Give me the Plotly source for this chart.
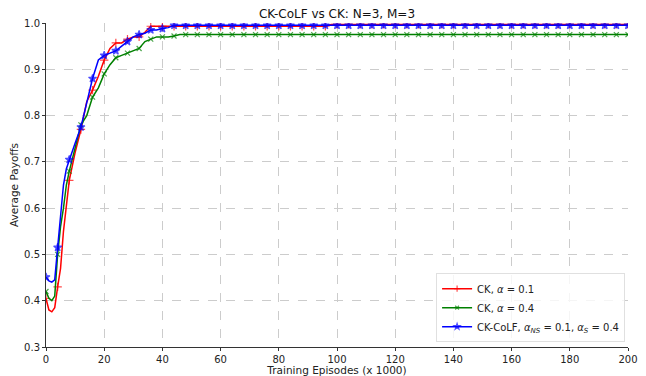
import plotly.graph_objects as go

# Episodes (x 1000)
episodes = [0, 1, 2, 3, 4, 5, 6, 7, 8, 10, 12, 14, 16, 18, 20, 22, 24, 26, 28, 30, 32, 34, 36, 38, 40,
            42, 44, 46, 48, 52, 56, 60, 64, 68, 72, 76, 80, 84, 88, 92, 96, 98, 100, 104, 108, 112,
            116, 120, 124, 128, 132, 136, 140, 144, 148, 152, 156, 160, 164, 168, 172, 176, 180,
            184, 188, 192, 196, 200]

ck_01 = [0.405, 0.380, 0.376, 0.385, 0.430, 0.470, 0.550, 0.610, 0.660, 0.720, 0.770, 0.830, 0.855,
         0.885, 0.920, 0.945, 0.957, 0.957, 0.965, 0.970, 0.970, 0.980, 0.993, 0.993, 0.993,
         0.993, 0.993, 0.993, 0.993, 0.993, 0.993, 0.993, 0.993, 0.993, 0.993, 0.993, 0.993,
         0.993, 0.993, 0.993, 0.993, 0.997, 0.997, 0.997, 0.997, 0.997, 0.997, 0.997, 0.997,
         0.997, 0.997, 0.997, 0.997, 0.997, 0.997, 0.997, 0.997, 0.997, 0.997, 0.997, 0.997,
         0.997, 0.997, 0.997, 0.997, 0.997, 0.997, 0.997]

ck_04 = [0.420, 0.405, 0.400, 0.410, 0.500, 0.560, 0.600, 0.650, 0.680, 0.730, 0.780, 0.800, 0.840,
         0.860, 0.890, 0.910, 0.925, 0.930, 0.935, 0.940, 0.945, 0.960, 0.965, 0.970, 0.970,
         0.970, 0.972, 0.975, 0.975, 0.975, 0.975, 0.975, 0.975, 0.975, 0.975, 0.975, 0.975,
         0.975, 0.975, 0.975, 0.975, 0.975, 0.975, 0.975, 0.975, 0.975, 0.975, 0.975, 0.975,
         0.975, 0.975, 0.975, 0.975, 0.975, 0.975, 0.975, 0.975, 0.975, 0.975, 0.975, 0.975,
         0.975, 0.975, 0.975, 0.975, 0.975, 0.975, 0.975]

ck_colf = [0.451, 0.443, 0.440, 0.445, 0.515, 0.590, 0.650, 0.685, 0.705, 0.740, 0.775, 0.830, 0.880,
           0.920, 0.930, 0.935, 0.940, 0.950, 0.960, 0.970, 0.975, 0.978, 0.985, 0.985, 0.988,
           0.990, 0.995, 0.995, 0.995, 0.995, 0.995, 0.995, 0.995, 0.995, 0.995, 0.995, 0.995,
           0.995, 0.995, 0.995, 0.995, 0.995, 0.995, 0.995, 0.995, 0.995, 0.995, 0.995, 0.995,
           0.995, 0.995, 0.995, 0.995, 0.995, 0.995, 0.995, 0.995, 0.995, 0.995, 0.995, 0.995,
           0.995, 0.995, 0.995, 0.995, 0.995, 0.995, 0.995]

x_ticks = [0, 20, 40, 60, 80, 100, 120, 140, 160, 180, 200]
y_ticks = [0.3, 0.4, 0.5, 0.6, 0.7, 0.8, 0.9, 1.0]

series = [
    ("CK, <i>α</i> = 0.1", ck_01, "#ff0000", "cross-thin-open", 6),
    ("CK, <i>α</i> = 0.4", ck_04, "#008000", "x-thin-open", 5),
    ("CK-CoLF, <i>α<sub>NS</sub></i> = 0.1, <i>α<sub>S</sub></i> = 0.4", ck_colf, "#0000ff", "star", 6),
]

fig = go.Figure()
for name, vals, color, sym, sz in series:
    sizes = [sz if (x % 4 == 0) else 0 for x in episodes]
    fig.add_trace(go.Scatter(
        x=episodes, y=vals, name=name, mode="lines+markers",
        line=dict(color=color, width=1.5),
        marker=dict(symbol=sym, size=sizes, color=color, line=dict(color=color, width=1.2)),
    ))

# page body has an 8px margin, so the figure is sized and offset to compensate
fig.update_layout(
    width=638, height=368,
    margin=dict(l=38, r=18, t=15, b=29),
    paper_bgcolor="white", plot_bgcolor="white",
    font=dict(family="DejaVu Sans", size=10, color="#222"),
    title=dict(text="CK-CoLF vs CK: N=3, M=3", x=0.5, xanchor="center", xref="paper",
               y=0.984, yref="container", yanchor="middle",
               font=dict(size=12, color="#111"), automargin=False),
    showlegend=True,
    legend=dict(x=0.995, y=0.015, xanchor="right", yanchor="bottom",
                bgcolor="rgba(255,255,255,0.8)", bordercolor="#e0e0e0", borderwidth=1,
                font=dict(size=10), itemsizing="trace", tracegroupgap=0),
)
fig.update_xaxes(
    range=[0, 200], tickvals=x_ticks, ticks="outside", ticklen=3, tickcolor="#333",
    showgrid=True, gridcolor="#cccccc", griddash="dash", gridwidth=0.8,
    showline=True, linecolor="#333", linewidth=1, zeroline=False, automargin=False,
    title=dict(text="Training Episodes (x 1000)", standoff=4, font=dict(size=10.5)),
)
fig.update_yaxes(
    range=[0.3, 1.0], tickvals=y_ticks, tickformat=".1f", ticks="outside", ticklen=3, tickcolor="#333",
    showgrid=True, gridcolor="#cccccc", griddash="dash", gridwidth=0.8,
    showline=True, linecolor="#333", linewidth=1, zeroline=False, automargin=False,
    title=dict(text="Average Payoffs", standoff=6, font=dict(size=10.5)),
)

fig.write_html("out.html")
